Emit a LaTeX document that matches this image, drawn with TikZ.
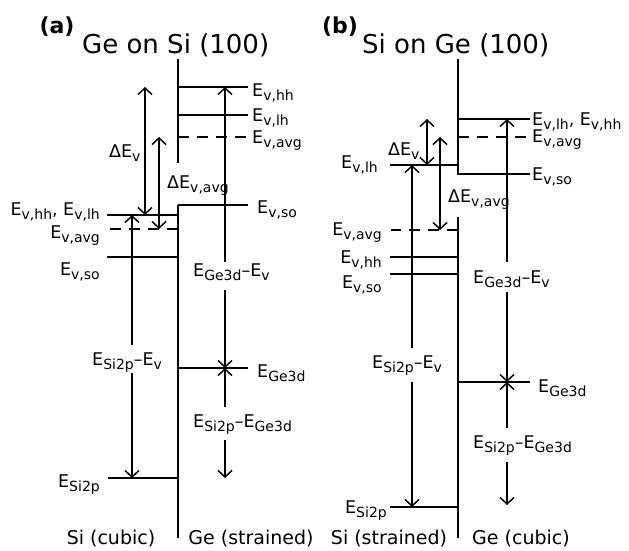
\documentclass[tikz,border=0pt]{standalone}
\usepackage{fontspec}
\setmainfont{DejaVu Sans}
\usetikzlibrary{arrows.meta,calc}
\newcommand{\subfnt}{\fontsize{14}{15}\selectfont}
\newcommand{\Es}[1]{E\raisebox{-4pt}{\subfnt #1}}
\tikzset{
  lab/.style={inner sep=0pt, font=\fontsize{17.5}{18}\selectfont},
  ttl/.style={inner sep=0pt, font=\fontsize{26}{28}\selectfont},
  tag/.style={inner sep=0pt, font=\bfseries\fontsize{22}{24}\selectfont},
  bot/.style={inner sep=0pt, font=\fontsize{19}{20}\selectfont},
  lvl/.style={line width=1.6pt},
  dlvl/.style={line width=1.6pt, dash pattern=on 11pt off 8pt},
  iface/.style={line width=1.7pt},
  tip/.tip={Straight Barb[length=6.5pt,width=14pt]},
  arr/.style={line width=1.5pt,-tip},
  darr/.style={line width=1.5pt,tip-tip},
}
\begin{document}
\begin{tikzpicture}[x=1pt,y=-1pt]
\useasboundingbox (0,0) rectangle (629,550);

% ================= panel (a) =================
\node[tag] (atag) at (57,27) {(a)};
\node[ttl,anchor=west] (attl) at (82,45) {Ge on Si (100)};

% interface
\coordinate (aI1) at (178,59);
\coordinate (aI2) at (178,163);
\coordinate (aI3) at (178,205);
\coordinate (aI4) at (178,538);
\draw[iface] (aI1) -- (aI2);
\draw[iface] (aI3) -- (aI4);

% Ge (strained) levels
\coordinate (aGhh0) at (178,87);  \coordinate (aGhh1) at (248,87);
\coordinate (aGlh0) at (178,115); \coordinate (aGlh1) at (248,115);
\coordinate (aGav0) at (178,137); \coordinate (aGav1) at (248,137);
\coordinate (aGso0) at (178,205); \coordinate (aGso1) at (248,205);
\coordinate (aGd0)  at (178,368); \coordinate (aGd1)  at (248,368);
\draw[lvl] (aGhh0) -- (aGhh1);
\draw[lvl] (aGlh0) -- (aGlh1);
\draw[dlvl] (aGav0) -- (aGav1);
\draw[lvl] (aGso0) -- (aGso1);
\draw[lvl] (aGd0) -- (aGd1);
\node[lab,anchor=base west] (laGhh) at (252,96) {\Es{v,hh}};
\node[lab,anchor=base west] (laGlh) at (252,121) {\Es{v,lh}};
\node[lab,anchor=base west] (laGav) at (252,143) {\Es{v,avg}};
\node[lab,anchor=base west] (laGso) at (257,213) {\Es{v,so}};
\node[lab,anchor=base west] (laGd)  at (257,377) {\Es{Ge3d}};

% Si (cubic) levels
\coordinate (aShh0) at (107,215); \coordinate (aShh1) at (178,215);
\coordinate (aSav0) at (107,229); \coordinate (aSav1) at (178,229);
\coordinate (aSso0) at (107,257); \coordinate (aSso1) at (178,257);
\coordinate (aSp0)  at (108,478); \coordinate (aSp1)  at (178,478);
\draw[lvl] (aShh0) -- (aShh1);
\draw[dlvl] (aSav1) -- (aSav0);
\draw[lvl] (aSso0) -- (aSso1);
\draw[lvl] (aSp0) -- (aSp1);
\node[lab,anchor=base east] (laShh) at (100,215) {\Es{v,hh}, \Es{v,lh}};
\node[lab,anchor=base east] (laSav) at (100,238) {\Es{v,avg}};
\node[lab,anchor=base east] (laSso) at (100,275) {\Es{v,so}};
\node[lab,anchor=base east] (laSp)  at (100,487) {\Es{Si2p}};

% arrows (a)
\coordinate (aDv1) at (145,87);  \coordinate (aDv2) at (145,215);
\draw[darr] (aDv1) -- (aDv2);
\node[lab,anchor=base west] (laDv) at (109,157) {Δ\Es{v}};
\coordinate (aDa1) at (159,137); \coordinate (aDa2) at (159,229);
\draw[darr] (aDa1) -- (aDa2);
\node[lab,anchor=base west] (laDa) at (167,188) {Δ\Es{v,avg}};

\node[lab,anchor=base west] (laSiV) at (92,365) {\Es{Si2p}–\Es{v}};
\coordinate (aSv1) at (132,345); \coordinate (aSv2) at (132,373);
\draw[arr] (aSv1) -- (aShh0 -| aSv1);
\draw[arr] (aSv2) -- (aSp0 -| aSv2);

\node[lab,anchor=base west] (laGeV) at (193,276) {\Es{Ge3d}–\Es{v}};
\coordinate (aGv1) at (225,262); \coordinate (aGv2) at (225,290);
\draw[arr] (aGv1) -- (aGhh0 -| aGv1);
\draw[arr] (aGv2) -- (aGd0 -| aGv2);

\node[lab,anchor=base west] (laSG) at (193,427) {\Es{Si2p}–\Es{Ge3d}};
\coordinate (aSG1) at (225,407); \coordinate (aSG2) at (225,440);
\coordinate (aSG3) at (225,478);
\draw[arr] (aSG1) -- (aGd0 -| aSG1);
\draw[arr] (aSG2) -- (aSG3);

\node[bot] (abl) at (111,539) {Si (cubic)};
\node[bot] (abr) at (251,539) {Ge (strained)};

% ================= panel (b) =================
\node[tag] (btag) at (340,27) {(b)};
\node[ttl,anchor=west] (bttl) at (362,45) {Si on Ge (100)};

\coordinate (bI1) at (458,59);
\coordinate (bI2) at (458,175);
\coordinate (bI3) at (458,217);
\coordinate (bI4) at (458,538);
\draw[iface] (bI1) -- (bI2);
\draw[iface] (bI3) -- (bI4);

% Ge (cubic) levels
\coordinate (bGhh0) at (458,119); \coordinate (bGhh1) at (530,119);
\coordinate (bGav0) at (458,137); \coordinate (bGav1) at (530,137);
\coordinate (bGso0) at (458,174); \coordinate (bGso1) at (530,174);
\coordinate (bGd0)  at (458,382); \coordinate (bGd1)  at (530,382);
\draw[lvl] (bGhh0) -- (bGhh1);
\draw[dlvl] (bGav0) -- (bGav1);
\draw[lvl] (bGso0) -- (bGso1);
\draw[lvl] (bGd0) -- (bGd1);
\node[lab,anchor=base west] (lbGhh) at (532,125) {\Es{v,lh}, \Es{v,hh}};
\node[lab,anchor=base west] (lbGav) at (532,142) {\Es{v,avg}};
\node[lab,anchor=base west] (lbGso) at (532,180) {\Es{v,so}};
\node[lab,anchor=base west] (lbGd)  at (538,392) {\Es{Ge3d}};

% Si (strained) levels
\coordinate (bSlh0) at (390,165); \coordinate (bSlh1) at (458,165);
\coordinate (bSav0) at (391,230); \coordinate (bSav1) at (458,230);
\coordinate (bShh0) at (390,257); \coordinate (bShh1) at (458,257);
\coordinate (bSso0) at (390,274); \coordinate (bSso1) at (458,274);
\coordinate (bSp0)  at (390,507); \coordinate (bSp1)  at (458,507);
\draw[lvl] (bSlh0) -- (bSlh1);
\draw[dlvl] (bSav1) -- (bSav0);
\draw[lvl] (bShh0) -- (bShh1);
\draw[lvl] (bSso0) -- (bSso1);
\draw[lvl] (bSp0) -- (bSp1);
\node[lab,anchor=base east] (lbSlh) at (378,168) {\Es{v,lh}};
\node[lab,anchor=base east] (lbSav) at (382,235) {\Es{v,avg}};
\node[lab,anchor=base east] (lbShh) at (382,263) {\Es{v,hh}};
\node[lab,anchor=base east] (lbSso) at (382,288) {\Es{v,so}};
\node[lab,anchor=base east] (lbSp)  at (387,513) {\Es{Si2p}};

% arrows (b)
\coordinate (bDv1) at (427,119); \coordinate (bDv2) at (427,165);
\draw[darr] (bDv1) -- (bDv2);
\node[lab,anchor=base west] (lbDv) at (388,155) {Δ\Es{v}};
\coordinate (bDa1) at (440,137); \coordinate (bDa2) at (440,230);
\draw[darr] (bDa1) -- (bDa2);
\node[lab,anchor=base west] (lbDa) at (448,202) {Δ\Es{v,avg}};

\node[lab,anchor=base west] (lbSiV) at (372,368) {\Es{Si2p}–\Es{v}};
\coordinate (bSv1) at (412,348); \coordinate (bSv2) at (412,382);
\draw[arr] (bSv1) -- (bSlh0 -| bSv1);
\draw[arr] (bSv2) -- (bSp0 -| bSv2);

\node[lab,anchor=base west] (lbGeV) at (473,283) {\Es{Ge3d}–\Es{v}};
\coordinate (bGv1) at (507,262); \coordinate (bGv2) at (507,292);
\draw[arr] (bGv1) -- (bGhh0 -| bGv1);
\draw[arr] (bGv2) -- (bGd0 -| bGv2);

\node[lab,anchor=base west] (lbSG) at (473,448) {\Es{Si2p}–\Es{Ge3d}};
\coordinate (bSG1) at (507,428); \coordinate (bSG2) at (507,462);
\coordinate (bSG3) at (507,505);
\draw[arr] (bSG1) -- (bGd0 -| bSG1);
\draw[arr] (bSG2) -- (bSG3);

\node[bot] (bbl) at (389,539) {Si (strained)};
\node[bot] (bbr) at (521,539) {Ge (cubic)};
\end{tikzpicture}
\end{document}
